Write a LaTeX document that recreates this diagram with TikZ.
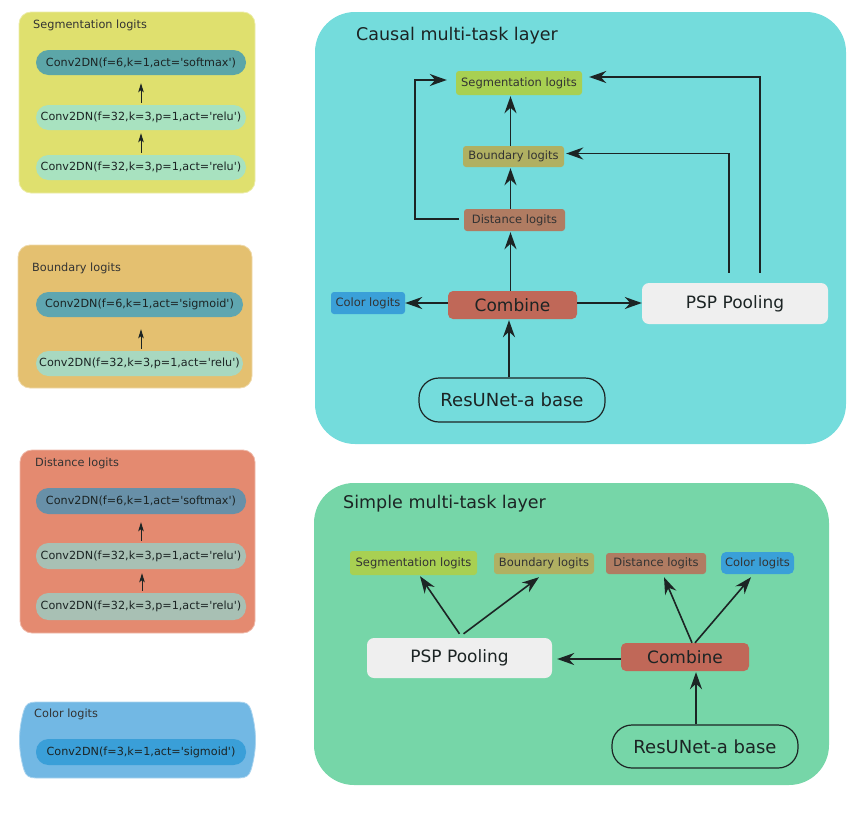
\documentclass[tikz,border=0pt]{standalone}
\usepackage{fontspec}
\setmainfont{DejaVu Sans}[Ligatures=TeXOff]
\usetikzlibrary{arrows.meta}
\definecolor{segpanel}{HTML}{DFE06E}
\definecolor{bndpanel}{HTML}{E4C070}
\definecolor{dstpanel}{HTML}{E48A70}
\definecolor{colpanel}{HTML}{72B8E4}
\definecolor{segtop}{HTML}{5CA6A8}
\definecolor{bndtop}{HTML}{5FA6B0}
\definecolor{dsttop}{HTML}{6890A8}
\definecolor{coltop}{HTML}{3A9FD8}
\definecolor{reluseg}{HTML}{A8E2C0}
\definecolor{relubnd}{HTML}{A8D8C0}
\definecolor{reludst}{HTML}{A8C0B4}
\definecolor{causalbg}{HTML}{74DCDC}
\definecolor{simplebg}{HTML}{76D6A8}
\definecolor{seglog}{HTML}{A8D052}
\definecolor{bndlog}{HTML}{B0B062}
\definecolor{dstlog}{HTML}{B07C62}
\definecolor{collog}{HTML}{3AA0D8}
\definecolor{combc}{HTML}{C06858}
\definecolor{pspc}{HTML}{EFEFEF}
\definecolor{inkc}{HTML}{1C2424}
\begin{document}
\begin{tikzpicture}[x=1pt,y=-1pt,
  pill/.style={rounded corners=12.5pt, minimum width=210pt, minimum height=25pt, inner sep=0pt,
    font=\fontsize{11.2}{13}\selectfont, text=inkc},
  ptitle/.style={anchor=west, inner sep=0pt, font=\fontsize{11.3}{13}\selectfont, text=black!80},
  sarr/.style={-{Stealth[length=9pt,width=5.5pt,inset=2pt]}, line width=1pt, draw=inkc},
  arr/.style={-{Stealth[length=17pt,width=12pt,inset=5.5pt]}, line width=1.6pt, draw=inkc},
  logit/.style={rounded corners=3pt, inner sep=0pt, font=\fontsize{11.5}{13}\selectfont, text=black!80},
  bigbox/.style={inner sep=0pt, font=\fontsize{17}{20}\selectfont, text=inkc},
  basebox/.style={inner sep=0pt, font=\fontsize{18}{21}\selectfont, text=inkc, draw=inkc, line width=1.2pt,
    rounded corners=20pt, minimum width=186pt},
  ttl/.style={anchor=west, inner sep=0pt, font=\fontsize{17.5}{20}\selectfont, text=inkc}
]
\useasboundingbox (0,0) rectangle (867,822);

% ---------- left: Segmentation logits ----------
\fill[segpanel, draw=segpanel!60!white, line width=0.8pt, rounded corners=12pt] (19,12) rectangle (255,193);
\node[ptitle] (tseg) at (33,25) {Segmentation logits};
\node[pill, fill=segtop] (s1) at (141,62.5) {Conv2DN(f=6,k=1,act='softmax')};
\node[pill, fill=reluseg] (s2) at (141,117.5) {Conv2DN(f=32,k=3,p=1,act='relu')};
\node[pill, fill=reluseg] (s3) at (141,167.5) {Conv2DN(f=32,k=3,p=1,act='relu')};
\draw[sarr, shorten <=2pt, shorten >=8pt] (s2.north) -- (s1.south);
\draw[sarr, shorten <=2pt, shorten >=3pt] (s3.north) -- (s2.south);

% ---------- left: Boundary logits ----------
\fill[bndpanel, draw=bndpanel!60!white, line width=0.8pt, rounded corners=12pt] (18,245) rectangle (252,388);
\node[ptitle] (tbnd) at (32,268) {Boundary logits};
\node[pill, fill=bndtop, minimum width=207pt] (b1) at (139.5,304.5) {Conv2DN(f=6,k=1,act='sigmoid')};
\node[pill, fill=relubnd, minimum width=207pt] (b2) at (139.5,363.5) {Conv2DN(f=32,k=3,p=1,act='relu')};
\draw[sarr, shorten <=2pt, shorten >=12pt] ([xshift=1.5pt]b2.north) -- ([xshift=1.5pt]b1.south);

% ---------- left: Distance logits ----------
\fill[dstpanel, draw=dstpanel!60!white, line width=0.8pt, rounded corners=12pt] (20,450) rectangle (255,633);
\node[ptitle] (tdst) at (35,463) {Distance logits};
\node[pill, fill=dsttop, minimum height=26pt] (d1) at (141,501) {Conv2DN(f=6,k=1,act='softmax')};
\node[pill, fill=reludst, minimum height=26pt] (d2) at (141,556) {Conv2DN(f=32,k=3,p=1,act='relu')};
\node[pill, fill=reludst, minimum height=27pt] (d3) at (141,606.5) {Conv2DN(f=32,k=3,p=1,act='relu')};
\draw[sarr, shorten <=2pt, shorten >=8pt] (d2.north) -- (d1.south);
\draw[sarr, shorten <=2pt, shorten >=4pt] ([xshift=1pt]d3.north) -- ([xshift=1pt]d2.south);

% ---------- left: Color logits ----------
\fill[colpanel, draw=colpanel!60!white, line width=0.8pt]
  (36,702) -- (239,702) .. controls (246,702) and (249,704) .. (251,710)
  .. controls (257,730) and (257,750) .. (251,770)
  .. controls (249,776) and (246,778) .. (239,778) -- (36,778)
  .. controls (29,778) and (26,776) .. (24,770)
  .. controls (18,750) and (18,730) .. (24,710)
  .. controls (26,704) and (29,702) .. (36,702) -- cycle;
\node[ptitle] (tcol) at (34,714) {Color logits};
\node[pill, fill=coltop, minimum height=26pt] (c1) at (141,752) {Conv2DN(f=3,k=1,act='sigmoid')};

% ---------- Causal multi-task layer ----------
\fill[causalbg, rounded corners=40pt] (315,12) rectangle (846,444);
\node[ttl] (tcausal) at (356,36) {Causal multi-task layer};
\node[logit, fill=seglog, minimum width=126pt, minimum height=24pt] (cseg) at (519,83) {Segmentation logits};
\node[logit, fill=bndlog, minimum width=101pt, minimum height=21pt] (cbnd) at (513.5,156.5) {Boundary logits};
\node[logit, fill=dstlog, minimum width=101pt, minimum height=22pt] (cdst) at (514.5,220) {Distance logits};
\node[logit, fill=collog, minimum width=74pt, minimum height=22pt] (ccol) at (368,303) {Color logits};
\node[bigbox, fill=combc, rounded corners=5pt, minimum width=129pt, minimum height=28pt] (ccomb) at (512.5,305) {Combine};
\node[bigbox, fill=pspc, rounded corners=7pt, minimum width=186pt, minimum height=41pt] (cpsp) at (735,303.5) {PSP Pooling};
\node[basebox, minimum height=44pt] (cres) at (512,400) {ResUNet-a base};

\draw[arr, shorten >=1pt] ([xshift=-3pt]cres.north) -- ([xshift=-3pt]cres.north |- ccomb.south);
\draw[arr, shorten >=1pt] ([xshift=-2pt]ccomb.north) -- ([xshift=-2pt]ccomb.north |- cdst.south);
\draw[arr, shorten >=1pt] ([xshift=-2pt]ccomb.north |- cdst.north) -- ([xshift=-2pt]ccomb.north |- cbnd.south);
\draw[arr, shorten >=1pt] ([xshift=-2pt]ccomb.north |- cbnd.north) -- ([xshift=-2pt]ccomb.north |- cseg.south);
\draw[arr] ([yshift=2pt]ccomb.west) -- ([yshift=2pt]ccol.east |- ccomb.west);
\draw[arr] ([yshift=2pt]ccomb.east) -- ([yshift=2pt]cpsp.west |- ccomb.east);
\draw[arr, shorten <=5pt, shorten >=9pt] ([yshift=1pt]cdst.west) -- ++(-49,0) |- ([yshift=3pt]cseg.west);
\draw[arr, shorten <=10pt, shorten >=2pt] ([xshift=-6pt]cpsp.north) |- ([yshift=3pt]cbnd.east);
\draw[arr, shorten <=10pt, shorten >=7pt] ([xshift=25pt]cpsp.north) |- ([yshift=6pt]cseg.east);

% ---------- Simple multi-task layer ----------
\fill[simplebg, rounded corners=40pt] (314,483) rectangle (829,785);
\node[ttl] (tsimple) at (343,504) {Simple multi-task layer};
\node[logit, fill=seglog, minimum width=127pt, minimum height=24pt] (sseg) at (413.5,563) {Segmentation logits};
\node[logit, fill=bndlog, minimum width=100pt, minimum height=21pt] (sbnd) at (544,563.5) {Boundary logits};
\node[logit, fill=dstlog, minimum width=100pt, minimum height=21pt] (sdst) at (656,563.5) {Distance logits};
\node[logit, fill=collog, minimum width=73pt, minimum height=22pt, rounded corners=5pt] (scol) at (757.5,563) {Color logits};
\node[bigbox, fill=pspc, rounded corners=7pt, minimum width=185pt, minimum height=40pt] (spsp) at (459.5,658) {PSP Pooling};
\node[bigbox, fill=combc, rounded corners=5pt, minimum width=128pt, minimum height=28pt] (scomb) at (685,657) {Combine};
\node[basebox, minimum height=43pt] (sres) at (705,746.5) {ResUNet-a base};

\draw[arr, shorten >=1pt] ([xshift=-9pt]sres.north) -- ([xshift=-9pt]sres.north |- scomb.south);
\draw[arr, shorten >=5pt] ([yshift=-2pt]scomb.west) -- ([yshift=-2pt]spsp.east |- scomb.west);
\draw[arr] ([yshift=4pt]spsp.north) -- ([xshift=6.5pt,yshift=-1pt]sseg.south);
\draw[arr] ([xshift=4pt,yshift=4pt]spsp.north) -- ([xshift=-5pt,yshift=-3pt]sbnd.south);
\draw[arr] ([xshift=7pt]scomb.north) -- ([xshift=8pt,yshift=-3pt]sdst.south);
\draw[arr] ([xshift=10pt]scomb.north) -- ([xshift=-6.5pt,yshift=-3pt]scol.south);
\end{tikzpicture}
\end{document}
